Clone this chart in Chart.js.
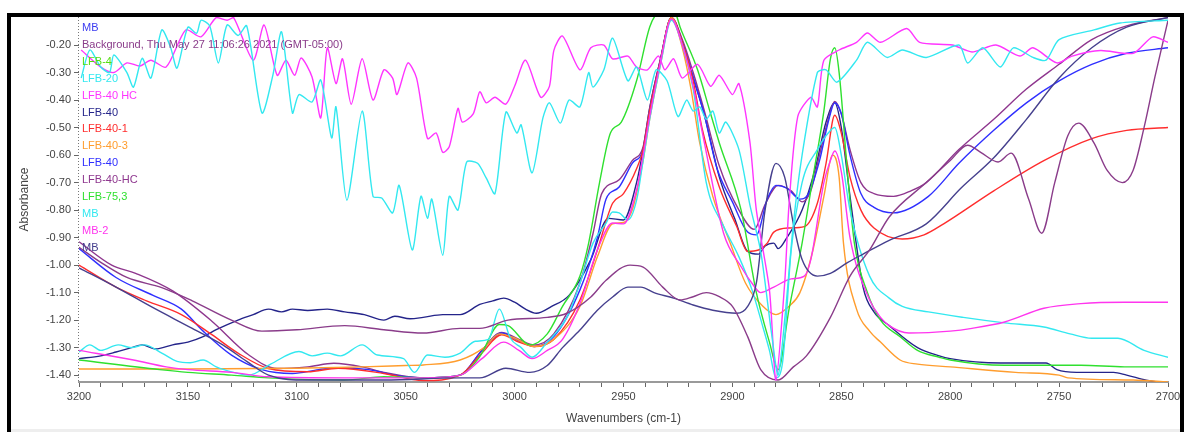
<!DOCTYPE html>
<html>
<head>
<meta charset="utf-8">
<script src="https://cdn.jsdelivr.net/npm/chart.js@4.4.0/dist/chart.umd.min.js"></script>
<style>
  html, body { margin: 0; padding: 0; background: #fff; }
  #wrap { position: relative; width: 1186px; height: 432px; overflow: hidden; }
  #frame { position: absolute; left: 7px; top: 13px; width: 1177px; height: 430px; border: 4px solid #000; border-bottom: none; box-sizing: border-box; pointer-events: none; }
  #strip { position: absolute; left: 11px; top: 429px; width: 1169px; height: 3px; background: #eeeeee; }
</style>
</head>
<body>
<div id="wrap">
  <canvas id="c" width="1186" height="432"></canvas>
  <div id="strip"></div>
  <div id="frame"></div>
</div>
<script>
// legend (as written in the spectrum window)
const legendNames = ['MB', 'Background, Thu May 27 11:06:26 2021 (GMT-05:00)', 'LFB-4', 'LFB-20', 'LFB-40 HC', 'LFB-40',
  'LFB-40-1', 'LFB-40-3', 'LFB-40', 'LFB-40-HC', 'LFB-75,3', 'MB', 'MB-2', 'MB'];
const legendColors = ['#3c3cf0', '#8a3c8a', '#55dd11', '#33e8f0', '#ff35ff', '#24248a',
  '#ff2d2d', '#ff9d2e', '#2f2fff', '#8e368e', '#2fe02f', '#33e8f0', '#ff35ee', '#46408e'];

// axis ticks
const xLabels = [3200, 3150, 3100, 3050, 3000, 2950, 2900, 2850, 2800, 2750, 2700];
const yTicks = [-1.4, -1.3, -1.2, -1.1, -1.0, -0.9, -0.8, -0.7, -0.6, -0.5, -0.4, -0.3, -0.2];

// LFB-40 (blue)
const blueWn = [3200,3183,3166,3153,3143,3130,3116,3102,3090,3081,
  3067,3055,3042,3025,3015,3006,2998,2991,2982,2970,
  2962,2958,2952,2946,2941,2938,2933,2928,2923,2918,
  2913,2907,2900,2893,2889,2884,2880,2875,2869,2865,
  2860,2856,2853,2850,2846,2841,2835,2826,2810,2796,
  2780,2765,2750,2735,2719,2700];
const blueAbs = [-0.94,-1.045,-1.11,-1.16,-1.24,-1.327,-1.38,-1.394,-1.38,-1.373,
  -1.38,-1.40,-1.41,-1.40,-1.31,-1.247,-1.275,-1.296,-1.26,-1.09,
  -0.90,-0.76,-0.716,-0.63,-0.58,-0.44,-0.255,-0.10,-0.19,-0.316,
  -0.45,-0.65,-0.77,-0.88,-0.89,-0.76,-0.71,-0.72,-0.76,-0.74,
  -0.62,-0.48,-0.41,-0.45,-0.60,-0.74,-0.79,-0.81,-0.75,-0.63,
  -0.51,-0.41,-0.33,-0.27,-0.23,-0.21];

// LFB-40-HC (purple)
const hcWn = [3200,3185,3174,3157,3139,3122,3109,3095,3083,3070,
  3060,3042,3025,3015,3006,2998,2991,2982,2970,2964,
  2960,2952,2946,2941,2938,2933,2928,2923,2918,2913,
  2906,2897,2890,2885,2879,2873,2868,2864,2860,2856,
  2853,2850,2846,2841,2835,2826,2818,2811,2796,2780,
  2765,2750,2735,2719,2700];
const hcAbs = [-0.915,-1.00,-1.03,-1.094,-1.204,-1.327,-1.376,-1.37,-1.357,-1.37,
  -1.39,-1.41,-1.40,-1.31,-1.245,-1.27,-1.29,-1.25,-1.065,-0.885,
  -0.74,-0.69,-0.62,-0.57,-0.43,-0.25,-0.10,-0.18,-0.30,-0.436,
  -0.64,-0.80,-0.87,-0.78,-0.71,-0.73,-0.77,-0.73,-0.60,-0.47,
  -0.405,-0.45,-0.58,-0.70,-0.74,-0.75,-0.73,-0.70,-0.58,-0.47,
  -0.36,-0.27,-0.18,-0.13,-0.10];

// LFB-40-1 (red)
const redWn = [3200,3183,3169,3153,3139,3127,3113,3095,3081,3060,
  3042,3025,3015,3006,2998,2991,2982,2970,2962,2955,
  2950,2944,2941,2938,2933,2928,2923,2918,2914,2906,
  2898,2893,2888,2884,2881,2874,2867,2861,2857,2853,
  2850,2846,2841,2835,2822,2812,2803,2780,2757,2735,
  2719,2700];
const redAbs = [-1.00,-1.08,-1.13,-1.18,-1.253,-1.32,-1.376,-1.388,-1.375,-1.394,
  -1.42,-1.40,-1.32,-1.253,-1.28,-1.296,-1.27,-1.127,-0.945,-0.775,
  -0.74,-0.65,-0.58,-0.44,-0.255,-0.10,-0.19,-0.33,-0.50,-0.716,
  -0.86,-0.95,-0.945,-0.92,-0.88,-0.865,-0.86,-0.775,-0.63,-0.455,
  -0.52,-0.68,-0.80,-0.865,-0.905,-0.89,-0.85,-0.73,-0.62,-0.54,
  -0.51,-0.50];

// LFB-40-3 (orange)
const orangeWn = [3200,3150,3100,3070,3050,3042,3025,3014,3007,3000,
  2991,2982,2970,2962,2955,2950,2946,2941,2938,2933,
  2928,2923,2919,2915,2909,2901,2894,2886,2880,2874,
  2869,2863,2858,2854,2851,2849,2843,2837,2832,2823,
  2815,2800,2770,2750,2746,2716,2700];
const orangeAbs = [-1.378,-1.378,-1.375,-1.37,-1.365,-1.363,-1.345,-1.30,-1.25,-1.265,
  -1.296,-1.27,-1.15,-0.97,-0.85,-0.845,-0.80,-0.62,-0.47,-0.27,
  -0.10,-0.21,-0.36,-0.556,-0.75,-0.92,-1.065,-1.15,-1.18,-1.15,
  -1.10,-0.945,-0.75,-0.60,-0.68,-0.92,-1.16,-1.24,-1.28,-1.345,
  -1.36,-1.37,-1.39,-1.40,-1.41,-1.418,-1.425];

// MB (cyan)
const mbCyanWn = [3200,3195,3190,3182,3176,3170,3162,3155,3149,3143,
  3137,3129,3122,3112,3099,3093,3086,3080,3070,3063,
  3051,3046,3040,3032,3025,3018,3012,3007,3002,2997,
  2992,2985,2976,2970,2964,2958,2955,2952,2948,2944,
  2941,2938,2933,2928,2923,2918,2912,2904,2897,2891,
  2886,2883,2880,2877,2873,2868,2861,2856,2853,2850,
  2846,2837,2828,2822,2810,2794,2775,2757,2745,2735,
  2723,2711,2700];
const mbCyanAbs = [-1.316,-1.29,-1.31,-1.29,-1.30,-1.29,-1.32,-1.35,-1.355,-1.345,
  -1.37,-1.39,-1.40,-1.36,-1.314,-1.33,-1.32,-1.33,-1.29,-1.327,
  -1.34,-1.39,-1.327,-1.335,-1.32,-1.277,-1.27,-1.16,-1.265,-1.30,
  -1.335,-1.28,-1.19,-1.066,-0.92,-0.847,-0.807,-0.81,-0.836,-0.764,
  -0.62,-0.47,-0.27,-0.11,-0.20,-0.36,-0.70,-0.86,-0.97,-1.09,
  -1.225,-1.31,-1.41,-1.356,-0.945,-0.70,-0.58,-0.52,-0.50,-0.60,
  -0.80,-1.04,-1.12,-1.15,-1.17,-1.19,-1.21,-1.225,-1.25,-1.266,
  -1.266,-1.31,-1.335];

// MB-2 (magenta)
const mb2Wn = [3200,3175,3160,3150,3130,3113,3078,3042,3025,3015,
  3005,2998,2992,2985,2978,2970,2962,2955,2950,2944,
  2941,2938,2933,2928,2923,2918,2913,2904,2896,2891,
  2887,2881,2873,2867,2864,2858,2855,2853,2850,2846,
  2837,2832,2828,2819,2800,2790,2775,2757,2740,2720,
  2700];
const mb2Abs = [-1.31,-1.345,-1.37,-1.38,-1.39,-1.406,-1.41,-1.41,-1.40,-1.34,
  -1.28,-1.31,-1.34,-1.31,-1.27,-1.14,-0.945,-0.847,-0.85,-0.727,
  -0.60,-0.46,-0.26,-0.105,-0.20,-0.35,-0.55,-0.885,-1.006,-1.066,
  -1.10,-1.08,-1.05,-1.04,-0.98,-0.70,-0.62,-0.585,-0.66,-0.90,
  -1.127,-1.19,-1.22,-1.247,-1.24,-1.23,-1.207,-1.157,-1.14,-1.135,
  -1.135];

// LFB-75,3 (green)
const greenWn = [3200,3163,3150,3130,3113,3078,3060,3042,3025,3016,
  3007,3003,2993,2985,2978,2970,2966,2961,2956,2951,
  2944,2938,2935,2931,2926,2924,2916,2910,2906,2896,
  2889,2883,2879,2874,2868,2863,2858,2855,2853,2851,
  2847,2844,2838,2832,2823,2815,2805,2800,2775,2740,
  2720,2700];
const greenAbs = [-1.345,-1.38,-1.39,-1.40,-1.41,-1.418,-1.406,-1.41,-1.40,-1.333,
  -1.216,-1.22,-1.29,-1.25,-1.15,-1.04,-0.92,-0.70,-0.52,-0.48,
  -0.33,-0.135,-0.09,-0.08,-0.09,-0.135,-0.29,-0.45,-0.556,-0.80,
  -1.10,-1.28,-1.38,-1.16,-0.92,-0.68,-0.44,-0.25,-0.21,-0.30,
  -0.68,-0.92,-1.10,-1.20,-1.26,-1.31,-1.335,-1.345,-1.364,-1.364,
  -1.37,-1.37];

// LFB-40 (navy)
const navyWn = [3200,3190,3183,3176,3171,3165,3157,3150,3143,3137,
  3127,3120,3113,3107,3102,3095,3086,3078,3069,3060,
  3055,3048,3042,3033,3025,3016,3010,3005,3000,2995,
  2990,2983,2975,2965,2957,2950,2944,2941,2938,2933,
  2928,2923,2918,2913,2906,2899,2893,2888,2885,2881,
  2879,2875,2868,2862,2857,2853,2850,2846,2840,2835,
  2828,2815,2805,2800,2777,2762,2756,2751,2742,2731,
  2725,2719,2710,2705];
const navyAbs = [-1.34,-1.33,-1.316,-1.30,-1.29,-1.305,-1.29,-1.28,-1.26,-1.235,
  -1.20,-1.18,-1.16,-1.17,-1.16,-1.165,-1.16,-1.17,-1.18,-1.20,
  -1.186,-1.195,-1.19,-1.18,-1.18,-1.143,-1.13,-1.12,-1.135,-1.16,
  -1.175,-1.15,-1.11,-0.98,-0.83,-0.836,-0.70,-0.58,-0.43,-0.25,
  -0.10,-0.19,-0.32,-0.45,-0.68,-0.83,-0.95,-0.96,-0.93,-0.92,
  -0.94,-0.90,-0.80,-0.65,-0.48,-0.41,-0.50,-0.75,-1.08,-1.17,
  -1.22,-1.30,-1.33,-1.34,-1.356,-1.356,-1.356,-1.38,-1.39,-1.39,
  -1.39,-1.40,-1.418,-1.425];

// MB (dark navy)
const mbNavyWn = [3200,3183,3166,3148,3134,3123,3113,3095,3060,3025,
  3016,3004,2993,2985,2978,2970,2962,2955,2948,2942,
  2936,2927,2918,2909,2898,2893,2889,2885,2880,2876,
  2872,2868,2861,2855,2847,2840,2828,2811,2795,2780,
  2765,2750,2735,2719,2700];
const mbNavyAbs = [-1.01,-1.08,-1.155,-1.23,-1.29,-1.35,-1.40,-1.418,-1.418,-1.41,
  -1.41,-1.375,-1.39,-1.365,-1.30,-1.236,-1.164,-1.116,-1.08,-1.08,
  -1.10,-1.12,-1.145,-1.164,-1.175,-1.15,-1.065,-0.80,-0.63,-0.68,
  -0.85,-0.98,-1.04,-1.03,-0.99,-0.96,-0.91,-0.85,-0.72,-0.61,
  -0.47,-0.32,-0.21,-0.135,-0.10];

// Background (purple)
const bgWn = [3200,3190,3178,3162,3148,3130,3116,3100,3078,3060,
  3042,3025,3016,3003,2985,2976,2965,2958,2947,2941,
  2932,2924,2918,2912,2906,2900,2893,2887,2879,2872,
  2866,2855,2846,2837,2828,2811,2800,2792,2786,2778,
  2772,2764,2758,2752,2746,2741,2734,2728,2721,2716,
  2711,2706,2700];
const bgAbs = [-0.935,-0.99,-1.045,-1.082,-1.13,-1.20,-1.24,-1.235,-1.22,-1.235,
  -1.247,-1.23,-1.23,-1.20,-1.19,-1.175,-1.116,-1.055,-1.00,-1.007,
  -1.08,-1.127,-1.115,-1.10,-1.115,-1.15,-1.26,-1.38,-1.418,-1.37,
  -1.33,-1.19,-1.04,-0.945,-0.825,-0.70,-0.62,-0.564,-0.59,-0.625,
  -0.593,-0.76,-0.884,-0.70,-0.53,-0.484,-0.556,-0.655,-0.70,-0.655,
  -0.50,-0.316,-0.11];

// LFB-20 (cyan, noisy)
const lfb20Wn = [3199,3195,3190,3186,3184,3178,3175,3171,3167,3162,
  3158,3155,3150,3146,3144,3140,3136,3132,3127,3123,
  3116,3111,3107,3102,3099,3093,3089,3084,3082,3077,
  3070,3065,3061,3056,3053,3047,3043,3040,3038,3033,
  3030,3026,3022,3017,3013,3009,3004,2999,2997,2992,
  2987,2984,2979,2975,2970,2966,2964,2959,2955,2948,
  2944,2939,2935,2930,2925,2921,2918,2915,2912,2909,
  2906,2903,2897,2892,2887,2882,2879,2876,2872,2868,
  2861,2857,2852,2843,2838,2829,2822,2811,2796,2792,
  2785,2777,2771,2762,2756,2750,2734,2722,2700];
const lfb20Abs = [-0.32,-0.218,-0.28,-0.30,-0.236,-0.30,-0.353,-0.248,-0.32,-0.145,
  -0.207,-0.284,-0.135,-0.157,-0.11,-0.13,-0.265,-0.127,-0.165,-0.13,
  -0.447,-0.31,-0.152,-0.447,-0.38,-0.407,-0.327,-0.538,-0.425,-0.764,
  -0.44,-0.75,-0.756,-0.81,-0.71,-0.945,-0.75,-0.83,-0.76,-0.964,
  -0.75,-0.80,-0.625,-0.63,-0.684,-0.74,-0.444,-0.52,-0.49,-0.665,
  -0.465,-0.41,-0.484,-0.40,-0.425,-0.30,-0.353,-0.29,-0.175,-0.33,
  -0.28,-0.40,-0.29,-0.33,-0.46,-0.40,-0.44,-0.425,-0.47,-0.44,
  -0.52,-0.48,-0.58,-0.78,-0.95,-1.25,-1.40,-1.20,-0.85,-0.60,
  -0.30,-0.29,-0.335,-0.255,-0.19,-0.245,-0.218,-0.245,-0.20,-0.265,
  -0.21,-0.28,-0.21,-0.245,-0.255,-0.18,-0.145,-0.12,-0.11];

// LFB-40 HC (magenta, noisy)
const lfb40hcWn = [3199,3190,3184,3178,3172,3167,3160,3151,3144,3137,
  3132,3129,3120,3115,3109,3105,3101,3098,3093,3089,
  3086,3082,3079,3075,3070,3065,3060,3056,3054,3049,
  3045,3040,3036,3033,3030,3026,3024,3019,3016,3013,
  3009,3004,3000,2995,2988,2984,2982,2978,2970,2965,
  2959,2955,2948,2944,2939,2934,2931,2927,2923,2916,
  2910,2906,2900,2897,2892,2889,2883,2880,2876,2874,
  2870,2864,2861,2858,2851,2843,2838,2832,2820,2814,
  2799,2790,2779,2768,2762,2751,2744,2731,2716,2707,
  2700];
const lfb40hcAbs = [-0.218,-0.28,-0.30,-0.265,-0.276,-0.255,-0.28,-0.145,-0.17,-0.10,
  -0.11,-0.10,-0.255,-0.127,-0.31,-0.255,-0.31,-0.247,-0.316,-0.465,
  -0.21,-0.34,-0.25,-0.415,-0.25,-0.40,-0.29,-0.32,-0.38,-0.265,
  -0.32,-0.54,-0.52,-0.59,-0.57,-0.43,-0.48,-0.45,-0.37,-0.41,
  -0.39,-0.415,-0.35,-0.255,-0.39,-0.35,-0.22,-0.167,-0.29,-0.21,
  -0.20,-0.25,-0.24,-0.28,-0.29,-0.24,-0.29,-0.25,-0.32,-0.27,
  -0.35,-0.31,-0.38,-0.34,-0.55,-0.80,-1.09,-1.418,-1.066,-0.78,
  -0.46,-0.39,-0.425,-0.255,-0.218,-0.19,-0.156,-0.19,-0.14,-0.19,
  -0.20,-0.225,-0.20,-0.24,-0.21,-0.265,-0.24,-0.22,-0.23,-0.17,
  -0.19];

function pts(wn, abs) {
  const n = Math.min(wn.length, abs.length);
  const out = [];
  for (let i = 0; i < n; i++) out.push({ x: wn[i], y: abs[i] });
  return out;
}

function smooth(label, wn, abs, color) {
  return { label: label, data: pts(wn, abs), borderColor: color, borderWidth: 1.4,
    cubicInterpolationMode: 'monotone', pointRadius: 0, fill: false };
}
function noisy(label, wn, abs, color) {
  return { label: label, data: pts(wn, abs), borderColor: color, borderWidth: 1.4,
    tension: 0.25, pointRadius: 0, fill: false };
}

const fontFamily = '"Liberation Sans", Arial, sans-serif';

// texte de legende + axe y pointille
const overlayPlugin = {
  id: 'overlay',
  afterDraw(chart) {
    const ctx = chart.ctx;
    const area = chart.chartArea;
    ctx.save();
    ctx.strokeStyle = '#777';
    ctx.lineWidth = 1;
    ctx.setLineDash([1, 2]);
    ctx.beginPath();
    ctx.moveTo(area.left - 0.5, area.top);
    ctx.lineTo(area.left - 0.5, area.bottom);
    ctx.stroke();
    ctx.setLineDash([]);
    ctx.font = '11px ' + fontFamily;
    ctx.textBaseline = 'middle';
    ctx.textAlign = 'left';
    legendNames.forEach((name, i) => {
      ctx.fillStyle = legendColors[i];
      ctx.fillText(name, 82, 28 + i * 16.9);
    });
    ctx.restore();
  }
};

new Chart(document.getElementById('c'), {
  type: 'line',
  data: {
    datasets: [
      noisy('LFB-20', lfb20Wn, lfb20Abs, '#33e8f0'),
      noisy('LFB-40 HC', lfb40hcWn, lfb40hcAbs, '#ff35ff'),
      smooth('Background', bgWn, bgAbs, '#8a3c8a'),
      smooth('MB', mbNavyWn, mbNavyAbs, '#46408e'),
      smooth('MB-2', mb2Wn, mb2Abs, '#ff35ee'),
      smooth('MB', mbCyanWn, mbCyanAbs, '#33e8f0'),
      smooth('LFB-75,3', greenWn, greenAbs, '#2fe02f'),
      smooth('LFB-40-3', orangeWn, orangeAbs, '#ff9d2e'),
      smooth('LFB-40-1', redWn, redAbs, '#ff2d2d'),
      smooth('LFB-40', blueWn, blueAbs, '#2f2fff'),
      smooth('LFB-40-HC', hcWn, hcAbs, '#8e368e'),
      smooth('LFB-40', navyWn, navyAbs, '#24248a')
    ]
  },
  options: {
    responsive: false,
    animation: false,
    devicePixelRatio: 1,
    layout: { padding: { left: 0, top: 17, right: 18, bottom: 0 } },
    plugins: { legend: { display: false }, tooltip: { enabled: false } },
    scales: {
      x: {
        type: 'linear',
        reverse: true,
        min: 2700,
        max: 3200,
        afterBuildTicks: s => {
          const t = [];
          for (let v = 2700; v <= 3200; v += 10) t.push({ value: v });
          s.ticks = t;
        },
        afterFit: s => { s.height = 50; },
        ticks: {
          autoSkip: false,
          maxRotation: 0,
          padding: 3,
          color: '#444',
          font: { family: fontFamily, size: 11 },
          callback: v => xLabels.includes(v) ? String(v) : ''
        },
        grid: { drawOnChartArea: false, drawTicks: true, tickLength: 5, tickColor: '#666' },
        border: { display: true, color: '#9a9a9a', width: 2 },
        title: {
          display: true,
          text: 'Wavenumbers (cm-1)',
          color: '#444',
          font: { family: fontFamily, size: 12 },
          padding: { top: 0, bottom: 6 }
        }
      },
      y: {
        type: 'linear',
        min: -1.425,
        max: -0.098,
        afterBuildTicks: s => { s.ticks = yTicks.map(v => ({ value: v })); },
        afterFit: s => { s.width = 79; },
        ticks: {
          padding: 3,
          color: '#444',
          font: { family: fontFamily, size: 11 },
          callback: v => Number(v).toFixed(2)
        },
        grid: { drawOnChartArea: false, drawTicks: true, tickLength: 5, tickColor: '#666' },
        border: { display: false },
        title: {
          display: true,
          text: 'Absorbance',
          color: '#444',
          font: { family: fontFamily, size: 12 },
          padding: { top: 17, bottom: 0 }
        }
      }
    }
  },
  plugins: [overlayPlugin]
});
</script>
</body>
</html>
